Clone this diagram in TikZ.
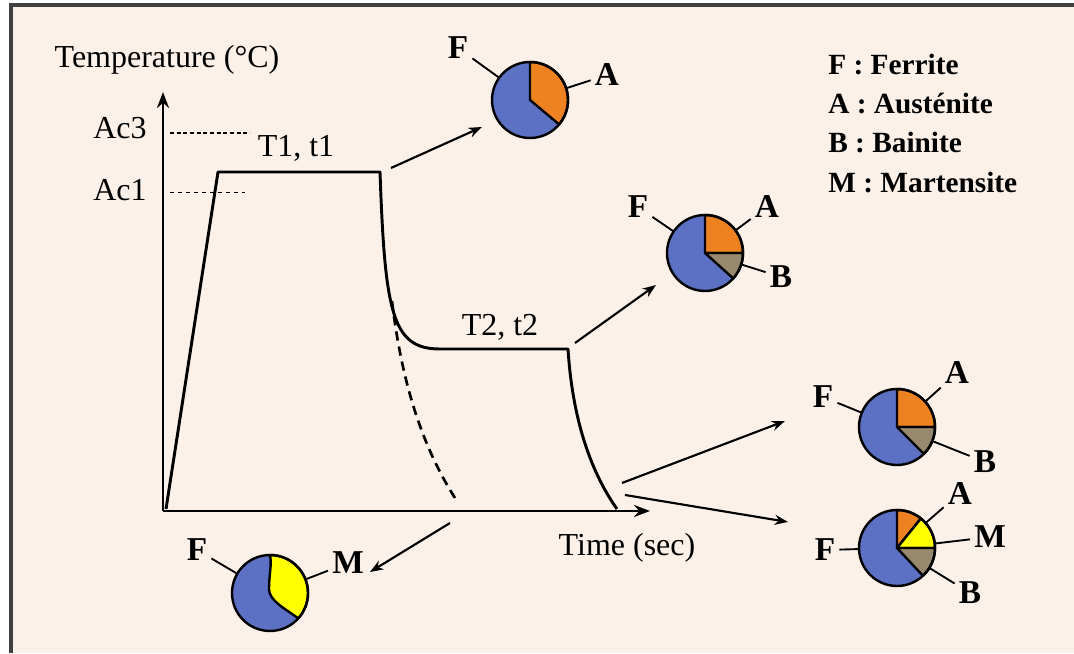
\documentclass[tikz,border=0pt]{standalone}
\usepackage{fontspec}
\setmainfont{Liberation Serif}
\usetikzlibrary{arrows.meta}
\definecolor{paper}{RGB}{252,241,233}
\definecolor{ferrite}{RGB}{92,112,196}
\definecolor{austenite}{RGB}{238,130,32}
\definecolor{bainite}{RGB}{152,136,110}
\definecolor{martensite}{RGB}{255,255,0}
\definecolor{framecol}{RGB}{64,64,64}

\begin{document}
\begin{tikzpicture}[x=0.75pt,y=0.75pt,
  curve/.style={line width=2.2pt, line join=round},
  axis/.style={line width=2.2pt, -{Stealth[length=12pt,width=9pt]}},
  pointer/.style={line width=1.6pt, -{Stealth[length=10pt,width=7.5pt]}},
  lbl/.style={font=\fontsize{24}{26}\selectfont, inner sep=0pt},
  phase/.style={font=\bfseries\fontsize{25}{27}\selectfont, inner sep=3pt},
  legend/.style={font=\bfseries\fontsize{22}{24}\selectfont, anchor=west, inner sep=0pt},
  pie/.style={circle, inner sep=0pt, minimum size=57pt},
  tie/.style={line width=1.4pt},
  outline/.style={line width=1.8pt, line join=round}
]
% page and frame
\fill[white] (0,0) rectangle (1074,653);
\useasboundingbox (0,0) rectangle (1074,653);
\fill[paper] (11,0) rectangle (1074,648);
\draw[line width=2.5pt, framecol] (1074,648) -- (11,648) -- (11,0);

% axes
\coordinate (O) at (163,142);
\coordinate (ytop) at (163,561);
\coordinate (xend) at (650,142);
\draw[axis] (O) -- (ytop);
\draw[axis] (O) -- (xend);
\node[lbl] (ylab) at (167,593) {Temperature (°C)};
\node[lbl] (xlab) at (627,105) {Time (sec)};

% critical temperatures
\node[lbl] (ac3) at (120,525) {Ac3};
\node[lbl] (ac1) at (120,463) {Ac1};
\coordinate (ac3a) at (170,520);
\coordinate (ac3b) at (250,520);
\coordinate (ac1a) at (170,461);
\coordinate (ac1b) at (245,461);
\draw[line width=0.8pt, densely dashed] (ac3a) -- (ac3b);
\draw[line width=0.6pt, dashed] (ac1a) -- (ac1b);

% heat treatment cycle
\draw[curve] (166,144) -- (218,481) -- (380,481)
  .. controls (385,340) and (392,304) .. (440,304) -- (568,304)
  .. controls (573,225) and (595,175) .. (617,144);
\draw[line width=2pt, dash pattern=on 7pt off 4.5pt]
  (392,352) .. controls (401,276) and (420,210) .. (455,155);
\node[lbl] (s1) at (296,505) {T1, t1};
\node[lbl] (s2) at (500,326) {T2, t2};

% pie 1 : F + A
\node[pie, fill=ferrite] (p1) at (530,553) {};
\filldraw[outline, fill=austenite] (p1.center) -- ++(-40:38) arc[start angle=-40, end angle=90, radius=38] -- cycle;
\draw[outline] (p1.center) circle (38);
\node[phase] (p1F) at (458,605) {F};
\node[phase] (p1A) at (607,578) {A};
\draw[tie] (p1F) -- (p1);
\draw[tie] (p1A) -- (p1);

% pie 2 : F + A + B
\node[pie, fill=ferrite] (p2) at (705,400) {};
\filldraw[outline, fill=austenite] (p2.center) -- ++(0:38) arc[start angle=0, end angle=90, radius=38] -- cycle;
\filldraw[outline, fill=bainite] (p2.center) -- ++(-42:38) arc[start angle=-42, end angle=0, radius=38] -- cycle;
\draw[outline] (p2.center) circle (38);
\node[phase] (p2F) at (638,446) {F};
\node[phase] (p2A) at (767,446) {A};
\node[phase] (p2B) at (781,376) {B};
\draw[tie] (p2F) -- (p2);
\draw[tie] (p2A) -- (p2);
\draw[tie] (p2B) -- (p2);

% pie 3 : F + A + B
\node[pie, fill=ferrite] (p3) at (897,226) {};
\filldraw[outline, fill=austenite] (p3.center) -- ++(0:38) arc[start angle=0, end angle=90, radius=38] -- cycle;
\filldraw[outline, fill=bainite] (p3.center) -- ++(-45:38) arc[start angle=-45, end angle=0, radius=38] -- cycle;
\draw[outline] (p3.center) circle (38);
\node[phase] (p3F) at (823,256) {F};
\node[phase] (p3A) at (957,280) {A};
\node[phase] (p3B) at (985,191) {B};
\draw[tie] (p3F) -- (p3);
\draw[tie] (p3A) -- (p3);
\draw[tie] (p3B) -- (p3);

% pie 4 : F + A + M + B
\node[pie, fill=ferrite] (p4) at (897,105) {};
\filldraw[outline, fill=austenite] (p4.center) -- ++(51:38) arc[start angle=51, end angle=90, radius=38] -- cycle;
\filldraw[outline, fill=martensite] (p4.center) -- ++(0:38) arc[start angle=0, end angle=51, radius=38] -- cycle;
\filldraw[outline, fill=bainite] (p4.center) -- ++(-47:38) arc[start angle=-47, end angle=0, radius=38] -- cycle;
\draw[outline] (p4.center) circle (38);
\node[phase] (p4A) at (960,160) {A};
\node[phase] (p4M) at (990,116) {M};
\node[phase] (p4B) at (970,60) {B};
\node[phase] (p4F) at (825,103) {F};
\draw[tie] (p4A) -- (p4);
\draw[tie] (p4M) -- (p4);
\draw[tie] (p4B) -- (p4);
\draw[tie] (p4F) -- (p4);

% pie 5 : F + M (direct quench)
\node[pie, fill=ferrite] (p5) at (270,60) {};
\filldraw[outline, fill=martensite] (270,98) arc[start angle=90, end angle=-42, radius=38]
  .. controls (286,44) and (269,52) .. (269,64)
  .. controls (269,78) and (272,88) .. (270,98) -- cycle;
\draw[outline] (p5.center) circle (38);
\node[phase] (p5F) at (197,103) {F};
\node[phase] (p5M) at (348,90) {M};
\draw[tie] (p5F) -- (p5);
\draw[tie] (p5M) -- (p5);

% pointers from the cycle to the resulting structures
\coordinate (a1s) at (391,485); \coordinate (a1e) at (482,526);
\coordinate (a2s) at (575,310); \coordinate (a2e) at (656,368);
\coordinate (a3s) at (622,170); \coordinate (a3e) at (785,232);
\coordinate (a4s) at (625,158); \coordinate (a4e) at (788,131);
\coordinate (a5s) at (450,130); \coordinate (a5e) at (370,81);
\draw[pointer] (a1s) -- (a1e);
\draw[pointer] (a2s) -- (a2e);
\draw[pointer] (a3s) -- (a3e);
\draw[pointer] (a4s) -- (a4e);
\draw[pointer] (a5s) -- (a5e);

% legend
\node[legend] (lgF) at (828,588) {F : Ferrite};
\node[legend] (lgA) at (828,549) {A : Austénite};
\node[legend] (lgB) at (828,510) {B : Bainite};
\node[legend] (lgM) at (828,470) {M : Martensite};
\end{tikzpicture}
\end{document}
